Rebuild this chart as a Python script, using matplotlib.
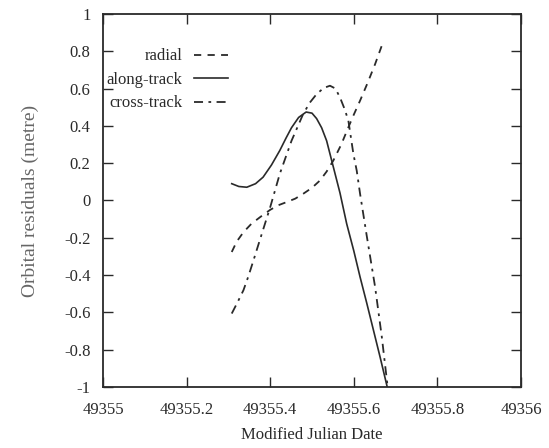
import matplotlib
matplotlib.use("Agg")
import matplotlib.pyplot as plt

# values
along_x = [49355.308, 49355.325, 49355.344, 49355.365, 49355.383, 49355.403, 49355.423,
           49355.438, 49355.451, 49355.468, 49355.486, 49355.500, 49355.511, 49355.523,
           49355.535, 49355.551, 49355.567, 49355.583, 49355.600, 49355.615, 49355.631,
           49355.647, 49355.663, 49355.680]
along_y = [0.090, 0.075, 0.071, 0.090, 0.125, 0.190, 0.268,
           0.335, 0.390, 0.445, 0.474, 0.468, 0.439, 0.390,
           0.320, 0.180, 0.040, -0.125, -0.270, -0.410, -0.550,
           -0.695, -0.840, -1.000]

radial_x = [49355.308, 49355.320, 49355.336, 49355.355, 49355.376, 49355.400, 49355.420,
            49355.440, 49355.460, 49355.479, 49355.500, 49355.519, 49355.535, 49355.551,
            49355.570, 49355.587, 49355.600, 49355.615, 49355.633, 49355.651, 49355.667]
radial_y = [-0.276, -0.220, -0.170, -0.125, -0.089, -0.050, -0.025,
            -0.008, 0.010, 0.036, 0.068, 0.107, 0.155, 0.214,
            0.300, 0.392, 0.460, 0.535, 0.630, 0.731, 0.830]

cross_x = [49355.308, 49355.322, 49355.336, 49355.348, 49355.360, 49355.380, 49355.400,
           49355.423, 49355.451, 49355.479, 49355.495, 49355.511, 49355.528, 49355.543,
           49355.556, 49355.567, 49355.578, 49355.587, 49355.599, 49355.607, 49355.615,
           49355.631, 49355.651, 49355.667, 49355.680]
cross_y = [-0.606, -0.545, -0.481, -0.405, -0.321, -0.178, -0.036,
           0.143, 0.320, 0.464, 0.525, 0.570, 0.603, 0.615,
           0.600, 0.552, 0.490, 0.428, 0.250, 0.160, 0.036,
           -0.190, -0.464, -0.731, -0.980]

xticks = [49355, 49355.2, 49355.4, 49355.6, 49355.8, 49356]
xtick_labels = ["49355", "49355.2", "49355.4", "49355.6", "49355.8", "49356"]
yticks = [1, 0.8, 0.6, 0.4, 0.2, 0, -0.2, -0.4, -0.6, -0.8, -1]
ytick_labels = ["1", "0.8", "0.6", "0.4", "0.2", "0", "-0.2", "-0.4", "-0.6", "-0.8", "-1"]

plt.rcParams['font.family'] = ['Liberation Serif', 'DejaVu Serif']
plt.rcParams['font.size'] = 12

ink = "#2a2a2a"

fig = plt.figure(figsize=(5.49, 4.48), dpi=100)
ax = fig.add_axes([0.1876, 0.136, 0.7614, 0.833])

ax.plot(radial_x, radial_y, color=ink, lw=1.3, linestyle=(0, (4, 3.5)), label="radial")
ax.plot(along_x, along_y, color=ink, lw=1.2, linestyle="-", label="along-track")
ax.plot(cross_x, cross_y, color=ink, lw=1.3, linestyle=(0, (5, 3, 1.5, 3)), label="cross-track")

ax.set_xlim(49355, 49356)
ax.set_ylim(-1, 1)
ax.set_xticks(xticks)
ax.set_xticklabels(xtick_labels)
ax.set_yticks(yticks)
ax.set_yticklabels(ytick_labels)
ax.tick_params(direction="in", top=True, right=True, length=7, width=1,
               colors=ink)
ax.tick_params(axis="x", pad=11)
ax.tick_params(axis="y", pad=9)
for s in ax.spines.values():
    s.set_color(ink)
    s.set_linewidth(1.3)

ax.set_xlabel("Modified Julian Date", color=ink, labelpad=6)
ax.set_ylabel("Orbital residuals (metre)", color="#666666", fontsize=14, labelpad=18)

ax.legend(loc="upper right", bbox_to_anchor=(0.318, 0.93), frameon=False,
          markerfirst=False, borderpad=0, handlelength=2.0, handletextpad=0.7,
          labelspacing=0.45, labelcolor=ink)

plt.savefig("out.png", dpi=100)
